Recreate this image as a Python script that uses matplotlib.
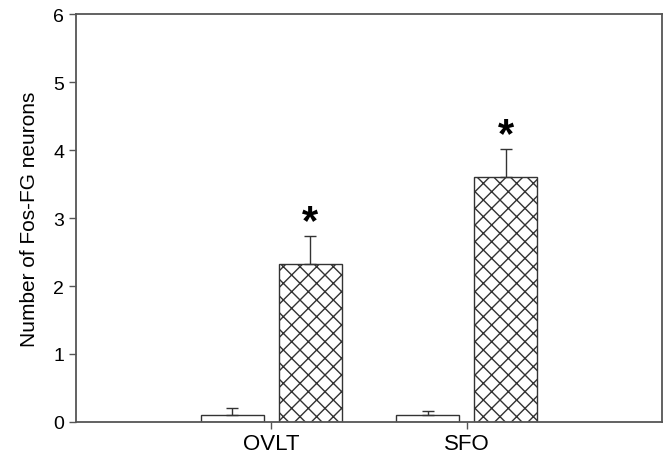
import numpy as np
import matplotlib
matplotlib.use("Agg")
import matplotlib.pyplot as plt

plt.rcParams['font.family'] = ['Liberation Sans', 'DejaVu Sans']
plt.rcParams['hatch.linewidth'] = 1.0

## Data
regions = ["OVLT", "SFO"]
control = [0.10, 0.10]
control_err = [0.10, 0.06]
treated = [2.33, 3.60]
treated_err = [0.40, 0.41]
y_ticks = [0, 1, 2, 3, 4, 5, 6]

## Figure
fig = plt.figure(figsize=(6.65, 4.56), dpi=100)
ax = fig.add_axes([0.1143, 0.0724, 0.8812, 0.8946])

x = np.arange(1, len(regions) + 1)
w = 0.32
edge = "#333333"

ax.bar(x - 0.2, control, w, color="white", edgecolor=edge, linewidth=1.0,
       yerr=[np.zeros(2), control_err], capsize=4.5,
       error_kw=dict(ecolor=edge, elinewidth=1.0, capthick=1.0))
ax.bar(x + 0.2, treated, w, color="white", edgecolor=edge, linewidth=1.0,
       hatch="xx", yerr=[np.zeros(2), treated_err], capsize=4.5,
       error_kw=dict(ecolor=edge, elinewidth=1.0, capthick=1.0))

# significance stars
for xi, v, e in zip(x + 0.2, treated, treated_err):
    ax.annotate("*", (xi, v + e), xytext=(0, -4), textcoords="offset points",
                ha="center", va="bottom", fontsize=30, fontweight="bold")

ax.set_xlim(0, 3)
ax.set_ylim(0, 6)
ax.set_xticks(x)
ax.set_xticklabels(regions, fontsize=16)
ax.set_yticks(y_ticks)
ax.tick_params(axis="y", labelsize=14, length=5, width=1.0, color="#555555")
ax.tick_params(axis="x", length=5, width=1.0, color="#555555", pad=3)
ax.set_ylabel("Number of Fos-FG neurons", fontsize=15, labelpad=10)

for s in ax.spines.values():
    s.set_color("#555555")
    s.set_linewidth(1.3)

fig.savefig("out.png", dpi=100)
